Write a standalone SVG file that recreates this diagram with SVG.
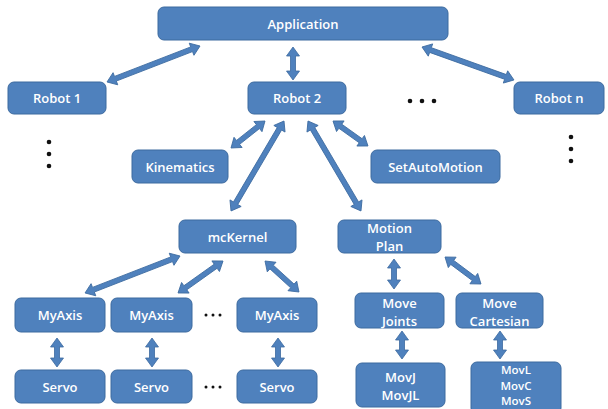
<svg xmlns="http://www.w3.org/2000/svg" width="608" height="409" viewBox="0 0 608 409">
<style>
.box{fill:#4F81BD;stroke:#3C6A9F;stroke-width:1}
.t{fill:#FFFFFF;font-family:"Open Sans","Liberation Sans",sans-serif;font-weight:600;font-size:13px;text-anchor:middle;dominant-baseline:central}
.s{font-size:11.5px}
.ar{fill:#4F81BD;stroke:#3C6A9F;stroke-width:0.8;stroke-linejoin:miter}
.dot{fill:#111111}
</style>
<rect width="608" height="409" fill="#FFFFFF"/>
<g id="connectors">
<path class="ar" transform="translate(200,46) rotate(158.84)" d="M0,0 L9,-6.5 L9,-2.5 L90.7,-2.5 L90.7,-6.5 L99.7,0 L90.7,6.5 L90.7,2.5 L9,2.5 L9,6.5 Z"/>
<path class="ar" transform="translate(293,47) rotate(90)" d="M0,0 L9,-6.5 L9,-2.5 L24,-2.5 L24,-6.5 L33,0 L24,6.5 L24,2.5 L9,2.5 L9,6.5 Z"/>
<path class="ar" transform="translate(422,47) rotate(19.73)" d="M0,0 L9,-6.5 L9,-2.5 L88.7,-2.5 L88.7,-6.5 L97.7,0 L88.7,6.5 L88.7,2.5 L9,2.5 L9,6.5 Z"/>
<path class="ar" transform="translate(265,121) rotate(141.55)" d="M0,0 L9,-6.5 L9,-2.5 L34.4,-2.5 L34.4,-6.5 L43.4,0 L34.4,6.5 L34.4,2.5 L9,2.5 L9,6.5 Z"/>
<path class="ar" transform="translate(284,121) rotate(120.5)" d="M0,0 L9,-6.5 L9,-2.5 L95.4,-2.5 L95.4,-6.5 L104.4,0 L95.4,6.5 L95.4,2.5 L9,2.5 L9,6.5 Z"/>
<path class="ar" transform="translate(308,121) rotate(59.5)" d="M0,0 L9,-6.5 L9,-2.5 L95.4,-2.5 L95.4,-6.5 L104.4,0 L95.4,6.5 L95.4,2.5 L9,2.5 L9,6.5 Z"/>
<path class="ar" transform="translate(333,121) rotate(35.54)" d="M0,0 L9,-6.5 L9,-2.5 L34,-2.5 L34,-6.5 L43,0 L34,6.5 L34,2.5 L9,2.5 L9,6.5 Z"/>
<path class="ar" transform="translate(180,256) rotate(158.72)" d="M0,0 L9,-6.5 L9,-2.5 L92.9,-2.5 L92.9,-6.5 L101.9,0 L92.9,6.5 L92.9,2.5 L9,2.5 L9,6.5 Z"/>
<path class="ar" transform="translate(223,261) rotate(144.58)" d="M0,0 L9,-6.5 L9,-2.5 L46.2,-2.5 L46.2,-6.5 L55.2,0 L46.2,6.5 L46.2,2.5 L9,2.5 L9,6.5 Z"/>
<path class="ar" transform="translate(265,261) rotate(42.36)" d="M0,0 L9,-6.5 L9,-2.5 L37,-2.5 L37,-6.5 L46,0 L37,6.5 L37,2.5 L9,2.5 L9,6.5 Z"/>
<path class="ar" transform="translate(57,338) rotate(90)" d="M0,0 L9,-6.5 L9,-2.5 L20,-2.5 L20,-6.5 L29,0 L20,6.5 L20,2.5 L9,2.5 L9,6.5 Z"/>
<path class="ar" transform="translate(152,338) rotate(90)" d="M0,0 L9,-6.5 L9,-2.5 L20,-2.5 L20,-6.5 L29,0 L20,6.5 L20,2.5 L9,2.5 L9,6.5 Z"/>
<path class="ar" transform="translate(278,338) rotate(90)" d="M0,0 L9,-6.5 L9,-2.5 L20,-2.5 L20,-6.5 L29,0 L20,6.5 L20,2.5 L9,2.5 L9,6.5 Z"/>
<path class="ar" transform="translate(394,259) rotate(90)" d="M0,0 L9,-6.5 L9,-2.5 L21,-2.5 L21,-6.5 L30,0 L21,6.5 L21,2.5 L9,2.5 L9,6.5 Z"/>
<path class="ar" transform="translate(445,257) rotate(36.87)" d="M0,0 L9,-6.5 L9,-2.5 L36,-2.5 L36,-6.5 L45,0 L36,6.5 L36,2.5 L9,2.5 L9,6.5 Z"/>
<path class="ar" transform="translate(402,331) rotate(90)" d="M0,0 L9,-6.5 L9,-2.5 L19,-2.5 L19,-6.5 L28,0 L19,6.5 L19,2.5 L9,2.5 L9,6.5 Z"/>
<path class="ar" transform="translate(500,331) rotate(90)" d="M0,0 L9,-6.5 L9,-2.5 L19,-2.5 L19,-6.5 L28,0 L19,6.5 L19,2.5 L9,2.5 L9,6.5 Z"/>
</g>
<g id="application"><rect class="box" x="158" y="7" width="290" height="33" rx="6"/><text class="t" x="303" y="24">Application</text></g>
<g id="robot1"><rect class="box" x="8" y="82" width="98" height="32" rx="6"/><text class="t" x="57" y="98">Robot 1</text></g>
<g id="robot2"><rect class="box" x="248" y="82" width="98" height="32" rx="6"/><text class="t" x="297" y="98">Robot 2</text></g>
<g id="robotn"><rect class="box" x="514" y="82" width="90" height="32" rx="6"/><text class="t" x="559" y="98">Robot n</text></g>
<g id="kinematics"><rect class="box" x="132" y="150" width="96" height="33" rx="6"/><text class="t" x="180" y="166.5">Kinematics</text></g>
<g id="setautomotion"><rect class="box" x="371" y="150" width="129" height="33" rx="6"/><text class="t" x="435.5" y="166.5">SetAutoMotion</text></g>
<g id="mckernel"><rect class="box" x="179" y="220" width="117" height="33" rx="6"/><text class="t" x="237.5" y="236.5">mcKernel</text></g>
<g id="motionplan"><rect class="box" x="338" y="220" width="103" height="33" rx="6"/><text class="t" x="389.5" y="228">Motion</text><text class="t" x="389.5" y="245.5">Plan</text></g>
<g id="myaxis1"><rect class="box" x="15" y="298" width="90" height="34" rx="6"/><text class="t" x="60" y="315">MyAxis</text></g>
<g id="myaxis2"><rect class="box" x="111" y="298" width="81" height="34" rx="6"/><text class="t" x="151.5" y="315">MyAxis</text></g>
<g id="myaxis3"><rect class="box" x="237" y="298" width="80" height="34" rx="6"/><text class="t" x="277" y="315">MyAxis</text></g>
<g id="servo1"><rect class="box" x="15" y="370" width="90" height="33" rx="6"/><text class="t" x="60" y="386.5">Servo</text></g>
<g id="servo2"><rect class="box" x="111" y="370" width="81" height="33" rx="6"/><text class="t" x="151.5" y="386.5">Servo</text></g>
<g id="servo3"><rect class="box" x="237" y="370" width="80" height="33" rx="6"/><text class="t" x="277" y="386.5">Servo</text></g>
<g id="movejoints"><rect class="box" x="355" y="293" width="89" height="35" rx="6"/><text class="t" x="399.5" y="302.5">Move</text><text class="t" x="399.5" y="320.5">Joints</text></g>
<g id="movecartesian"><rect class="box" x="456" y="293" width="87" height="35" rx="6"/><text class="t" x="499.5" y="302.5">Move</text><text class="t" x="499.5" y="320.5">Cartesian</text></g>
<g id="movj"><rect class="box" x="356" y="363" width="89" height="44" rx="6"/><text class="t" x="400.5" y="377">MovJ</text><text class="t" x="400.5" y="395">MovJL</text></g>
<g id="movl"><rect class="box" x="471" y="362" width="90" height="52" rx="6"/><text class="t s" x="516" y="369">MovL</text><text class="t s" x="516" y="385">MovC</text><text class="t s" x="516" y="400.5">MovS</text></g>
<g id="ellipses">
<circle class="dot" cx="410" cy="101" r="2.3"/><circle class="dot" cx="422" cy="101" r="2.3"/><circle class="dot" cx="434" cy="101" r="2.3"/>
<circle class="dot" cx="49" cy="142" r="2.3"/><circle class="dot" cx="49" cy="154" r="2.3"/><circle class="dot" cx="49" cy="166" r="2.3"/>
<circle class="dot" cx="571" cy="137" r="2.3"/><circle class="dot" cx="571" cy="149" r="2.3"/><circle class="dot" cx="571" cy="161" r="2.3"/>
<circle class="dot" cx="206" cy="315" r="1.5"/><circle class="dot" cx="213" cy="315" r="1.5"/><circle class="dot" cx="220" cy="315" r="1.5"/>
<circle class="dot" cx="206" cy="387" r="1.5"/><circle class="dot" cx="213" cy="387" r="1.5"/><circle class="dot" cx="220" cy="387" r="1.5"/>
</g>
</svg>
